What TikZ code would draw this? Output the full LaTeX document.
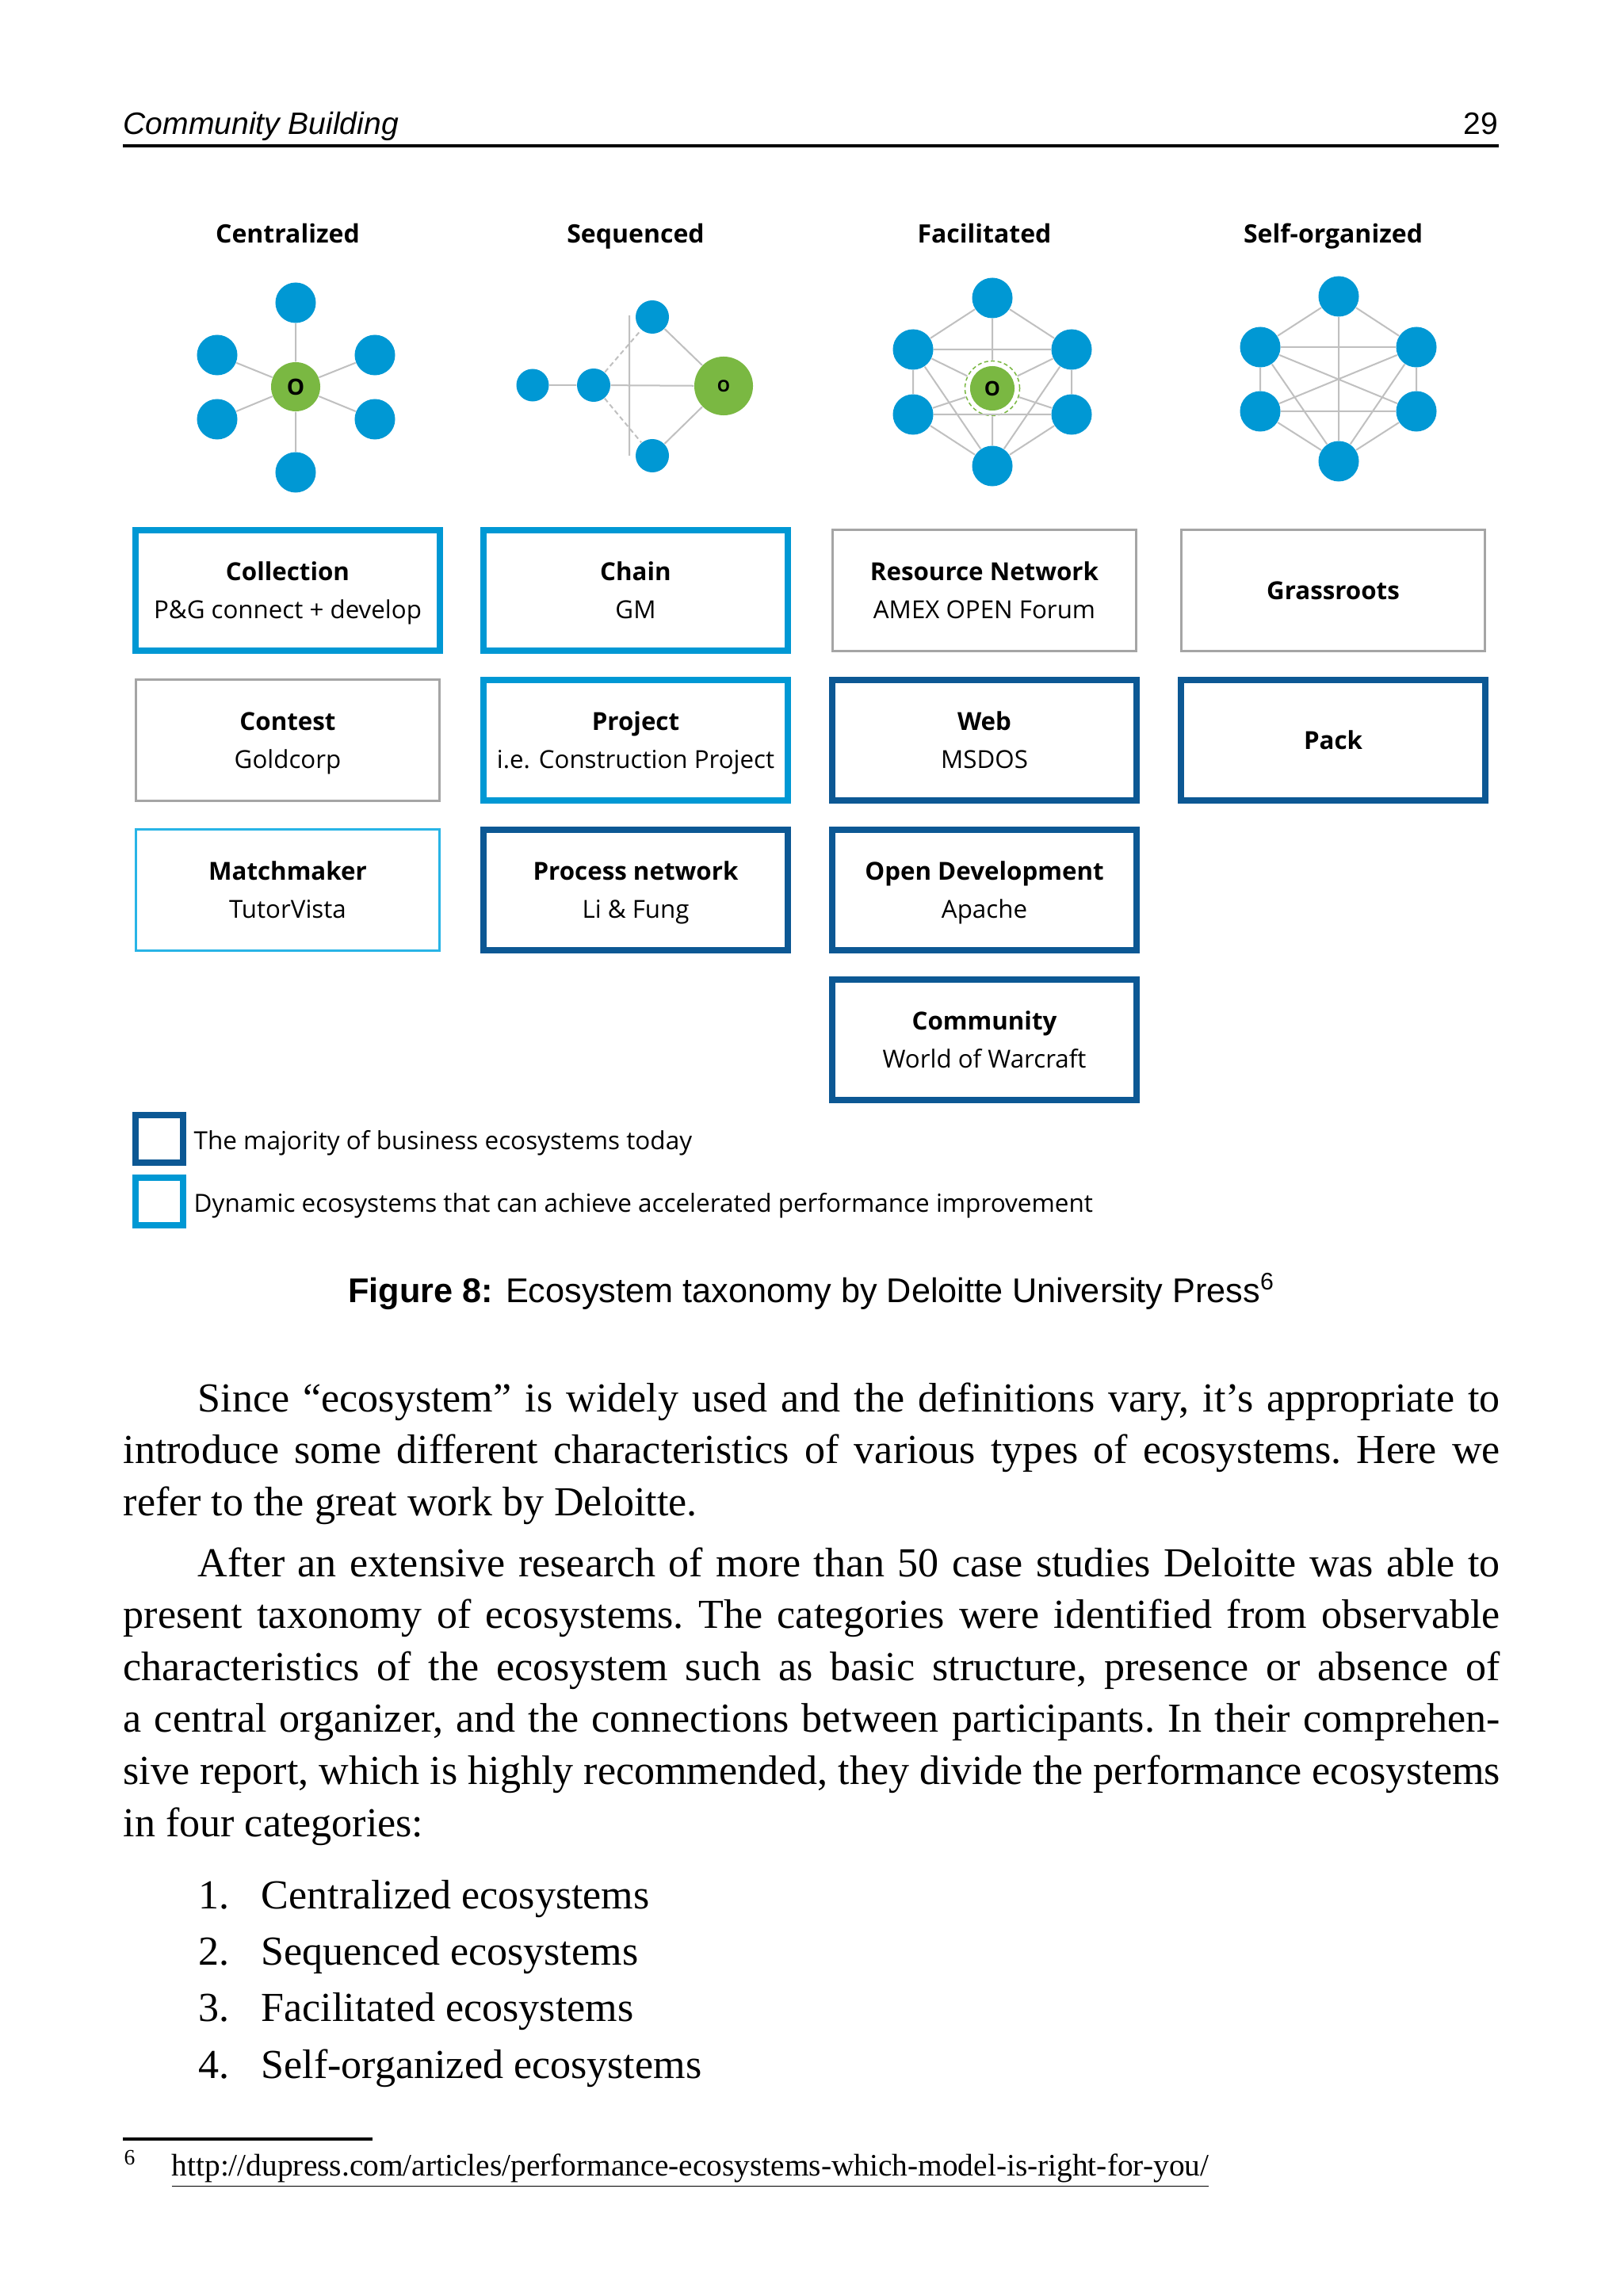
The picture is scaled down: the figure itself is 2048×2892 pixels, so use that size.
\documentclass[tikz,border=0pt]{standalone}
\usepackage{fontspec}
\setmainfont{Liberation Serif}
\newfontfamily\figfont{Open Sans}
\newfontfamily\capfont{Liberation Sans}
\definecolor{ecoblue}{RGB}{0,152,212}
\definecolor{ecodark}{RGB}{12,88,148}
\definecolor{ecosky}{RGB}{40,180,230}
\definecolor{ecogray}{RGB}{165,165,165}
\definecolor{ecogreen}{RGB}{122,184,66}
\definecolor{ecoline}{RGB}{192,192,192}
\tikzset{
  member/.style={circle, fill=ecoblue, inner sep=0pt, minimum size=0.51cm},
  organizer/.style={circle, fill=ecogreen, inner sep=0pt, font=\figfont\bfseries\fontsize{8}{8}\selectfont},
  link/.style={draw=ecoline, line width=0.02cm},
  taxbox/.style={align=center, inner sep=0pt, minimum width=3.83cm, minimum height=1.52cm, text depth=0pt,
    font=\figfont\fontsize{8.9}{13.66}\selectfont},
  dynamic/.style={taxbox, draw=ecoblue, line width=0.08cm},
  majority/.style={taxbox, draw=ecodark, line width=0.08cm},
  other/.style={taxbox, draw=ecogray, line width=0.03cm},
  matcher/.style={taxbox, draw=ecosky, line width=0.03cm},
  colhead/.style={anchor=base, inner sep=0pt, font=\figfont\bfseries\fontsize{9.1}{11}\selectfont},
  keybox/.style={line width=0.08cm, minimum size=0.59cm, inner sep=0pt},
  keytext/.style={anchor=base west, inner sep=0pt, font=\figfont\fontsize{8.95}{11}\selectfont},
  body/.style={anchor=base west, inner sep=0pt, font=\fontsize{14.8}{18.67}\selectfont},
}
\begin{document}
\begin{tikzpicture}[x=0.01cm, y=-0.01cm]
  \path[use as bounding box, fill=white] (0,0) rectangle (2048,2892);
  % running head
  \node[anchor=base west, inner sep=0pt, font=\capfont\itshape\fontsize{11.1}{13}\selectfont] (chapter) at (155,170) {Community Building};
  \node[anchor=base east, inner sep=0pt, font=\capfont\fontsize{11.1}{13}\selectfont] (pageno) at (1891,170) {29};
  \draw[line width=0.04cm] (155,184) -- (1891,184);

  \node[colhead] (centralized) at (363,307) {Centralized};
  \node[colhead] (sequenced) at (802,307) {Sequenced};
  \node[colhead] (facilitated) at (1242,307) {Facilitated};
  \node[colhead] (selforg) at (1682,307) {Self-organized};

  % centralized
  \node[organizer, minimum size=0.62cm] (cO) at (373,488) {O};
  \node[member] (c1) at (373,382) {};
  \node[member] (c2) at (473,448) {};
  \node[member] (c3) at (473,529) {};
  \node[member] (c4) at (373,596) {};
  \node[member] (c5) at (274,529) {};
  \node[member] (c6) at (274,448) {};
  \draw[link] (cO) -- (c1) (cO) -- (c2) (cO) -- (c3) (cO) -- (c4) (cO) -- (c5) (cO) -- (c6);

  % sequenced
  \node[member, minimum size=0.41cm] (s1) at (672,486) {};
  \node[member, minimum size=0.42cm] (s2) at (749,486) {};
  \node[member, minimum size=0.42cm] (s3) at (823,400) {};
  \node[member, minimum size=0.42cm] (s4) at (823,575) {};
  \node[organizer, minimum size=0.74cm, font=\figfont\bfseries\fontsize{5.8}{6}\selectfont] (sO) at (913,487) {O};
  \coordinate (sv1) at (794,398);
  \coordinate (sv2) at (794,575);
  \draw[link] (s1) -- (s2) (s2) -- (sO) (s3) -- (sO) (s4) -- (sO) (sv1) -- (sv2);
  \draw[link, dash pattern=on 0.06cm off 0.04cm] (s2) -- (s3) (s2) -- (s4);

  % facilitated
  \node[circle, draw=ecogreen, dash pattern=on 0.05cm off 0.035cm, line width=0.015cm, minimum size=0.69cm, inner sep=0pt] (fring) at (1252,490) {};
  \node[organizer, minimum size=0.56cm, font=\figfont\bfseries\fontsize{7.2}{7}\selectfont] (fO) at (1252,490) {O};
  \node[member] (f1) at (1252,376) {};
  \node[member] (f2) at (1352,441) {};
  \node[member] (f3) at (1352,523) {};
  \node[member] (f4) at (1252,588) {};
  \node[member] (f5) at (1152,523) {};
  \node[member] (f6) at (1152,441) {};
  \draw[link] (f1) -- (f2) -- (f3) -- (f4) -- (f5) -- (f6) -- (f1);
  \draw[link] (f6) -- (f2) (f5) -- (f3) (f6) -- (f4) (f2) -- (f4);
  \draw[link] (f1) -- (fring) (fring) -- (f4) (f2) -- (fring) (f3) -- (fring) (f5) -- (fring) (f6) -- (fring);

  % self-organized
  \node[member] (o1) at (1689,374) {};
  \node[member] (o2) at (1787,438) {};
  \node[member] (o3) at (1787,519) {};
  \node[member] (o4) at (1689,582) {};
  \node[member] (o5) at (1590,519) {};
  \node[member] (o6) at (1590,438) {};
  \draw[link] (o1) -- (o2) -- (o3) -- (o4) -- (o5) -- (o6) -- (o1);
  \draw[link] (o1) -- (o4) (o6) -- (o2) (o5) -- (o3) (o6) -- (o3) (o2) -- (o5) (o6) -- (o4) (o2) -- (o4);

  % taxonomy
  \node[dynamic] (collection) at (363,745) {\textbf{Collection}\\P\&G connect + develop};
  \node[dynamic] (chain) at (802,745) {\textbf{Chain}\\GM};
  \node[other] (resource) at (1242,745) {\textbf{Resource Network}\\AMEX OPEN Forum};
  \node[other] (grassroots) at (1682,745) {\textbf{Grassroots}};
  \node[other] (contest) at (363,934) {\textbf{Contest}\\Goldcorp};
  \node[dynamic] (project) at (802,934) {\textbf{Project}\\i.e. Construction Project};
  \node[majority] (web) at (1242,934) {\textbf{Web}\\MSDOS};
  \node[majority] (pack) at (1682,934) {\textbf{Pack}};
  \node[matcher] (matchmaker) at (363,1123) {\textbf{Matchmaker}\\TutorVista};
  \node[majority] (process) at (802,1123) {\textbf{Process network}\\Li \& Fung};
  \node[majority] (opendev) at (1242,1123) {\textbf{Open Development}\\Apache};
  \node[majority] (community) at (1242,1312) {\textbf{Community}\\World of Warcraft};

  % legend
  \node[keybox, draw=ecodark] (keymajor) at (201,1437) {};
  \node[keybox, draw=ecoblue] (keydynamic) at (201,1516) {};
  \node[keytext] (majortext) at (244,1450) {The majority of business ecosystems today};
  \node[keytext] (dynamictext) at (244,1529) {Dynamic ecosystems that can achieve accelerated performance improvement};

  \node[anchor=base, inner sep=0pt, font=\capfont\fontsize{12.3}{14}\selectfont] (caption) at (1024,1643)
    {\textbf{Figure 8:} Ecosystem taxonomy by Deloitte University Press\textsuperscript{6}};

  % text of the page
  \node[body] (para1) at (155,1781) {\parbox[t]{17.36cm}{\sloppy\frenchspacing\hspace*{0.94cm}Since “ecosystem” is widely used and the definitions vary, it’s appropriate to\linebreak
    introduce some different characteristics of various types of ecosystems. Here we\linebreak
    refer to the great work by Deloitte.}};
  \node[body] (para2) at (155,1989) {\parbox[t]{17.36cm}{\sloppy\frenchspacing\hspace*{0.94cm}After an extensive research of more than 50 case studies Deloitte was able to\linebreak
    present taxonomy of ecosystems. The categories were identified from observable\linebreak
    characteristics of the ecosystem such as basic structure, presence or absence of\linebreak
    a central organizer, and the connections between participants. In their comprehen-\linebreak
    sive report, which is highly recommended, they divide the performance ecosystems\linebreak
    in four categories:}};
  \node[body] (item1) at (250,2408) {\makebox[0.79cm][l]{1.}Centralized ecosystems};
  \node[body] (item2) at (250,2479) {\makebox[0.79cm][l]{2.}Sequenced ecosystems};
  \node[body] (item3) at (250,2550) {\makebox[0.79cm][l]{3.}Facilitated ecosystems};
  \node[body] (item4) at (250,2622) {\makebox[0.79cm][l]{4.}Self-organized ecosystems};

  \draw[line width=0.04cm] (155,2699) -- (470,2699);
  \node[anchor=base west, inner sep=0pt, font=\fontsize{11.2}{13}\selectfont] (footnote) at (156,2745)
    {\makebox[0.6cm][l]{\textsuperscript{6}}\underline{http://dupress.com/articles/performance-ecosystems-which-model-is-right-for-you/}};
\end{tikzpicture}
\end{document}
